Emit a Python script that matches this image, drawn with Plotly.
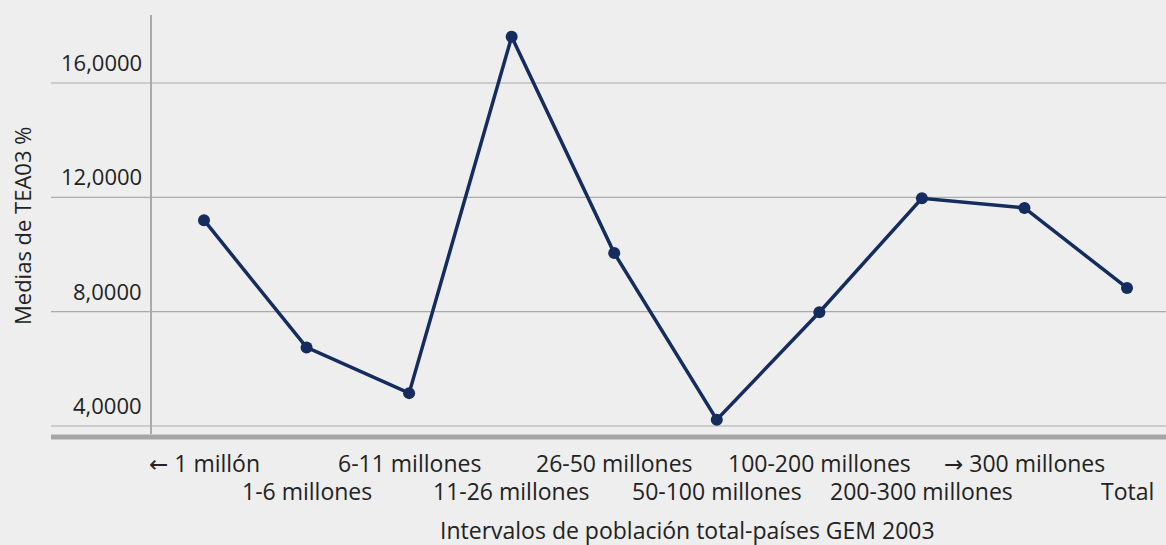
import plotly.graph_objects as go

# Population brackets (GEM 2003 countries) and mean TEA03 % per bracket
categories = [
    "\u2190 1 millón", "1-6 millones", "6-11 millones", "11-26 millones",
    "26-50 millones", "50-100 millones", "100-200 millones",
    "200-300 millones", "\u2192 300 millones", "Total",
]
tea_means = [11.2, 6.75, 5.15, 17.62, 10.05, 4.22, 7.98, 11.97, 11.63, 8.83]
y_ticks = [4, 8, 12, 16]
y_tick_text = ["4,0000", "8,0000", "12,0000", "16,0000"]

BG = "#eeeeee"
GRID = "#aaaaaa"
NAVY = "#142c5e"
TEXT = "#222222"
FONT = "Open Sans"
FS_TICK = 22
FS_CAT = 23
FS_TITLE = 23

x_idx = list(range(len(categories)))


def styled_label(text):
    # draw arrow glyphs with a font whose arrows are full width
    for arrow in ("\u2190", "\u2192"):
        text = text.replace(
            arrow, f"<span style='font-family:DejaVu Sans'>{arrow}</span>")
    return text


fig = go.Figure()
fig.add_trace(go.Scatter(
    x=x_idx, y=tea_means, mode="lines+markers",
    line=dict(color=NAVY, width=3.5),
    marker=dict(color=NAVY, size=12),
    showlegend=False, hoverinfo="skip",
))

# plot area in pixels: left 152, top 15, bottom 434 (figure 1166x545)
W, H = 1166, 545
ml, mt, mb = 152, 15, 111
plot_w = W - ml
plot_h = H - mt - mb
grid_left = -(ml - 51) / plot_w

shapes = []
for v in y_ticks:
    shapes.append(dict(type="line", xref="paper", yref="y",
                       x0=grid_left, x1=1, y0=v, y1=v,
                       line=dict(color=GRID, width=1.2), layer="below"))
# heavy baseline under the plot
shapes.append(dict(type="line", xref="paper", yref="paper",
                   x0=grid_left, x1=1, y0=-3 / plot_h, y1=-3 / plot_h,
                   line=dict(color="#a6a6a6", width=5)))

annotations = []
for v, t in zip(y_ticks, y_tick_text):
    annotations.append(dict(x=0, xref="paper", y=v, yref="y", text=t,
                            showarrow=False, xanchor="right", yanchor="middle",
                            xshift=-8, yshift=21,
                            font=dict(family=FONT, size=FS_TICK, color=TEXT)))

# category labels alternate between two rows
row_y = [-(463 - (H - mb)) / plot_h, -(491 - (H - mb)) / plot_h]
for i, lab in enumerate(categories):
    annotations.append(dict(x=i, xref="x", y=row_y[i % 2], yref="paper",
                            text=styled_label(lab), showarrow=False,
                            xanchor="center", yanchor="middle",
                            font=dict(family=FONT, size=FS_CAT, color=TEXT)))

annotations.append(dict(x=(687 - ml) / plot_w, xref="paper",
                        y=-(530 - (H - mb)) / plot_h, yref="paper",
                        text="Intervalos de población total-países GEM 2003",
                        showarrow=False, xanchor="center", yanchor="middle",
                        font=dict(family=FONT, size=FS_TITLE, color=TEXT)))
annotations.append(dict(x=-(ml - 22) / plot_w, xref="paper",
                        y=(223 - mt) / plot_h, yref="paper",
                        text="Medias de TEA03 %",
                        textangle=-90, showarrow=False,
                        xanchor="center", yanchor="middle",
                        font=dict(family=FONT, size=FS_TICK, color=TEXT)))

fig.update_layout(
    width=W, height=H,
    margin=dict(l=ml, r=0, t=mt, b=mb),
    paper_bgcolor=BG, plot_bgcolor=BG,
    xaxis=dict(range=[-0.507, 9.38], showgrid=False, zeroline=False,
               showticklabels=False, ticks="", showline=False, fixedrange=True),
    yaxis=dict(range=[3.72, 18.38], showgrid=False, zeroline=False,
               showticklabels=False, ticks="", showline=True,
               linecolor=GRID, linewidth=1.5, fixedrange=True),
    shapes=shapes, annotations=annotations,
)

fig.write_html("out.html", config={"displayModeBar": False})
